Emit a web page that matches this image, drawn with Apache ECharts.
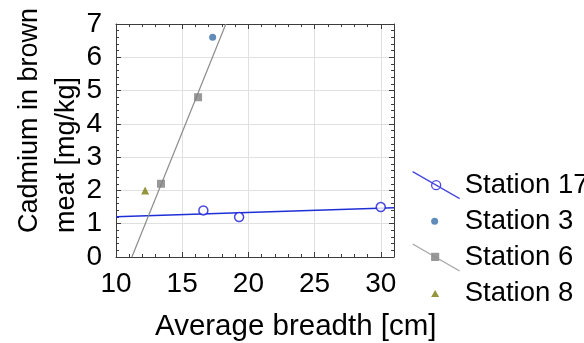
<!DOCTYPE html>
<html>
<head>
<meta charset="utf-8">
<script src="https://cdn.jsdelivr.net/npm/echarts@6/dist/echarts.min.js"></script>
<style>
  html, body { margin: 0; padding: 0; background: #fff; }
  #main { width: 584px; height: 343px; }
</style>
</head>
<body>
<div id="main"></div>
<script>
// values
var xTicks = [10, 15, 20, 25, 30];
var yTicks = [0, 1, 2, 3, 4, 5, 6, 7];

var station17 = [[16.6, 1.4], [19.3, 1.2], [30.0, 1.5]];
var station3 = [[17.3, 6.6]];
var station6 = [[13.4, 2.2], [16.2, 4.8]];
var station8 = [[12.2, 2.0]];

// regression lines (end points as drawn)
var fit17 = [[10, 1.21], [31, 1.48]];
var fit6 = [[11.2, 0], [18.3, 7]];

var font = "'Liberation Sans', Arial, sans-serif";
var frame = '#3c3c3c';

var chart = echarts.init(document.getElementById('main'));

function axisX(pos, labels) {
    return {
        type: 'value', position: pos, min: 10, max: 31, interval: 5,
        axisLine: { show: true, onZero: false, lineStyle: { color: frame, width: 1 } },
        axisTick: { show: true, inside: true, length: 5, lineStyle: { color: frame } },
        minorTick: { show: true, splitNumber: 5, length: 3, lineStyle: { color: frame } },
        axisLabel: { show: labels, showMaxLabel: false, margin: 13, color: '#000', fontSize: 28, fontFamily: font },
        splitLine: { show: labels, lineStyle: { color: '#e0e0e0' } }
    };
}
function axisY(pos, labels) {
    return {
        type: 'value', position: pos, min: 0, max: 7, interval: 1,
        axisLine: { show: true, onZero: false, lineStyle: { color: frame, width: 1 } },
        axisTick: { show: true, inside: true, length: 5, lineStyle: { color: frame } },
        minorTick: { show: true, splitNumber: 5, length: 3, lineStyle: { color: frame } },
        axisLabel: { show: labels, margin: 14, color: '#000', fontSize: 28, fontFamily: font },
        splitLine: { show: labels, lineStyle: { color: '#e0e0e0' } }
    };
}

var option = {
    animation: false,
    backgroundColor: '#fff',
    grid: { left: 116, right: 190, top: 24, bottom: 86 },
    xAxis: [axisX('bottom', true), axisX('top', false)],
    yAxis: [axisY('left', true), axisY('right', false)],
    legend: {
        orient: 'vertical', left: 407, top: 166,
        itemWidth: 47, itemHeight: 27, itemGap: 8,
        selectedMode: false,
        textStyle: { color: '#000', fontSize: 27.5, lineHeight: 28, fontFamily: font },
        data: [
            { name: 'Station 17', icon: 'path://M0 0L47 27M28 13.5A4.5 4.5 0 1 1 19 13.5A4.5 4.5 0 1 1 28 13.5',
              itemStyle: { color: 'rgba(0,0,0,0)', borderColor: '#1a1ad8', borderWidth: 1.3 } },
            { name: 'Station 3', icon: 'path://M0 0M47 27M25.5 13.5A3.5 3.5 0 1 1 18.5 13.5A3.5 3.5 0 1 1 25.5 13.5Z',
              itemStyle: { color: '#3a6fa8', borderWidth: 0 } },
            { name: 'Station 6', icon: 'path://M0 0L47 27M19 9.5L26 9.5L26 16.5L19 16.5Z',
              itemStyle: { color: '#808080', borderColor: '#8c8c8c', borderWidth: 1.2 } },
            { name: 'Station 8', icon: 'path://M0 0M47 27M22.5 10L26.5 17L18.5 17Z',
              itemStyle: { color: '#7a7a0a', borderWidth: 0 } }
        ]
    },
    graphic: [
        {
            type: 'text', x: 48, y: 233, rotation: Math.PI / 2,
            style: { text: 'Cadmium in brown\nmeat [mg/kg]', font: '27px ' + font, fill: '#000',
                     align: 'left', verticalAlign: 'middle', lineHeight: 37 }
        },
        {
            type: 'text', x: 155, y: 327,
            style: { text: 'Average breadth [cm]', font: '29.5px ' + font, fill: '#000',
                     align: 'left', verticalAlign: 'middle' }
        }
    ],
    series: [
        { name: 'fit 17', type: 'line', data: fit17, showSymbol: false, silent: true,
          lineStyle: { color: '#1f2fd6', width: 1.5 }, z: 2 },
        { name: 'fit 6', type: 'line', data: fit6, showSymbol: false, silent: true,
          lineStyle: { color: '#8c8c8c', width: 1.2 }, z: 2 },
        { name: 'Station 17', type: 'scatter', data: station17, symbol: 'circle', symbolSize: 9,
          itemStyle: { color: '#fff', borderColor: '#1a1ad8', borderWidth: 1.5 }, z: 3 },
        { name: 'Station 3', type: 'scatter', data: station3, symbol: 'circle', symbolSize: 7,
          itemStyle: { color: '#3a6fa8' }, z: 3 },
        { name: 'Station 6', type: 'scatter', data: station6, symbol: 'rect', symbolSize: 8,
          itemStyle: { color: '#808080' }, z: 3 },
        { name: 'Station 8', type: 'scatter', data: station8, symbol: 'triangle', symbolSize: 8,
          itemStyle: { color: '#7a7a0a' }, z: 3 }
    ]
};

chart.setOption(option);
</script>
</body>
</html>
